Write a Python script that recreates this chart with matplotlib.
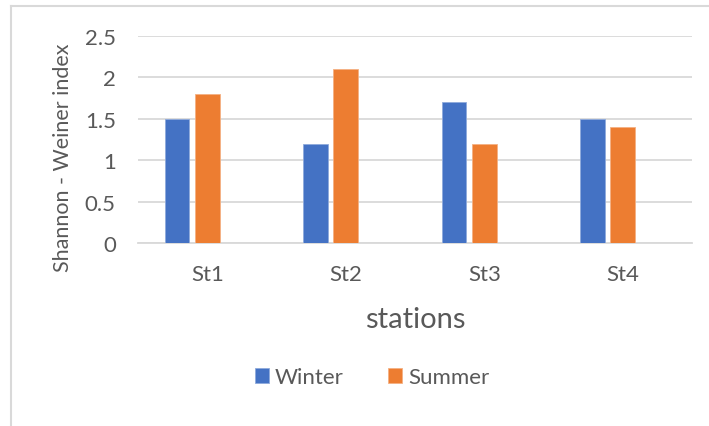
import numpy as np
import matplotlib.pyplot as plt
from matplotlib.lines import Line2D

#%% donnees
stations = ["St1", "St2", "St3", "St4"]
winter = [1.5, 1.2, 1.7, 1.5]
summer = [1.8, 2.1, 1.2, 1.4]
yticks = [0, 0.5, 1, 1.5, 2, 2.5]

blue = "#4472C4"
orange = "#ED7D31"
grey_txt = "#595959"
grid_col = "#D9D9D9"

plt.rcParams['font.family'] = ['Lato', 'DejaVu Sans']

#%% figure
fig = plt.figure(figsize=(7.09, 4.27), dpi=100)
ax = fig.add_axes([138/709, 1-244/427, 554/709, 207/427])

x = np.arange(len(stations))
w = 0.177
step = 0.22
ax.bar(x - step, winter, w, color=blue, edgecolor="#8FAADC", linewidth=0.6, label="Winter", zorder=3)
ax.bar(x, summer, w, color=orange, edgecolor="#F4B183", linewidth=0.6, label="Summer", zorder=3)

ax.set_xlim(-0.5, 3.5)
ax.set_ylim(0, 2.5)
ax.set_yticks(yticks)
ax.set_yticklabels([f"{v:g}" for v in yticks])
ax.set_xticks(x)
ax.set_xticklabels(stations)
ax.yaxis.grid(True, color=grid_col, linewidth=1.3, zorder=0)
for s in ["top", "right", "left"]:
    ax.spines[s].set_visible(False)
ax.spines["bottom"].set_color(grid_col)
ax.spines["bottom"].set_linewidth(1.3)
ax.tick_params(axis="both", length=0, colors=grey_txt, labelsize=16)
ax.tick_params(axis="y", pad=16)
ax.tick_params(axis="x", pad=15)

ax.set_xlabel("stations", fontsize=21, color=grey_txt)
ax.xaxis.set_label_coords(0.5, -0.305)
ax.set_ylabel("Shannon - Weiner index", fontsize=15.5, color=grey_txt)
ax.yaxis.set_label_coords(-0.118, 0.415)

fig.legend(loc="center", bbox_to_anchor=(372/709, 1-378/427), ncol=2, frameon=False,
           fontsize=16, handlelength=0.65, handleheight=0.65, handletextpad=0.25,
           columnspacing=2.0, labelcolor=grey_txt)

# cadre du graphique
fig.add_artist(Line2D([11/709, 1], [1-7/427, 1-7/427], color=grid_col, linewidth=1.5))
fig.add_artist(Line2D([11/709, 11/709], [0, 1-7/427], color=grid_col, linewidth=1.5))

fig.savefig("out.png", dpi=100)
